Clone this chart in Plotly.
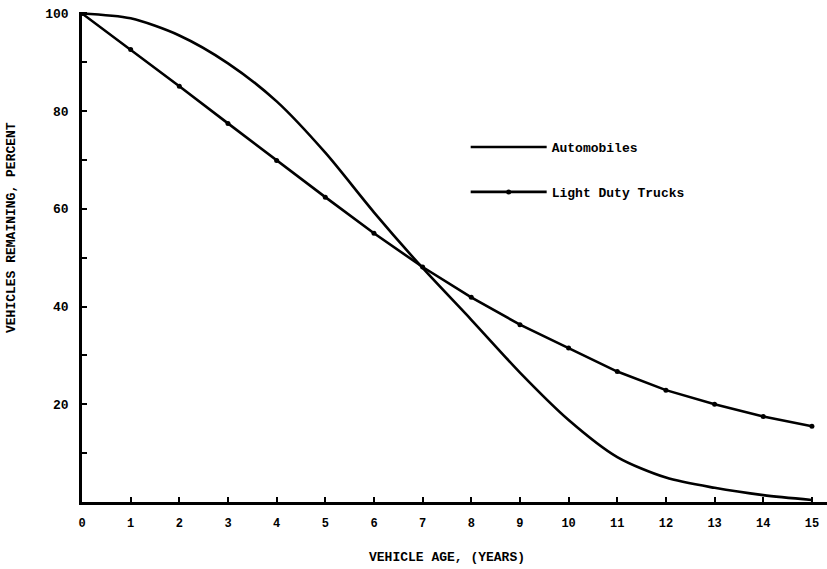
import plotly.graph_objects as go

years = list(range(16))
automobiles = [100, 99.0, 95.5, 89.8, 82.0, 71.5, 59.3, 47.9, 37.3, 26.5, 16.8, 9.2, 5.0, 2.9, 1.4, 0.4]
light_duty_trucks = [100, 92.6, 85.1, 77.5, 69.9, 62.4, 55.0, 48.1, 41.9, 36.3, 31.5, 26.7, 22.9, 20.0, 17.5, 15.5]

x_ticks = list(range(16))
y_tick_vals = list(range(0, 101, 10))
y_tick_text = ["" if (v % 20 or v == 0) else str(v) for v in y_tick_vals]

FONT = "Liberation Mono, DejaVu Sans Mono, monospace"

fig = go.Figure()
fig.add_trace(go.Scatter(
    x=years, y=automobiles, mode="lines", name="Automobiles",
    line=dict(color="black", width=2.6, shape="spline", smoothing=0.8),
    legendgroup="a",
))
fig.add_trace(go.Scatter(
    x=years, y=light_duty_trucks, mode="lines+markers", name="Light Duty Trucks",
    line=dict(color="black", width=2.6),
    marker=dict(color="black", size=5),
    legendgroup="b",
))

fig.update_layout(
    width=827, height=569,
    margin=dict(l=82, r=0, t=12, b=67),
    paper_bgcolor="white", plot_bgcolor="white",
    font=dict(family=FONT, color="black", size=13),
    showlegend=True,
    legend=dict(
        x=0.515, y=0.755, xanchor="left", yanchor="top",
        bgcolor="rgba(0,0,0,0)", tracegroupgap=25,
        traceorder="grouped", itemwidth=76,
        font=dict(family=FONT, size=13, color="black", weight="bold"),
    ),
    xaxis=dict(
        range=[0, 15.31], tickvals=x_ticks, ticktext=[str(v) for v in x_ticks],
        showgrid=False, zeroline=False, showline=True, linecolor="black", linewidth=2.5,
        ticks="inside", ticklen=5, tickwidth=2, tickcolor="black",
        tickfont=dict(family=FONT, size=12, color="black", weight="bold"),
        ticklabelstandoff=8,
    ),
    yaxis=dict(
        range=[0, 100.3], tickvals=y_tick_vals, ticktext=y_tick_text,
        showgrid=False, zeroline=False, showline=True, linecolor="black", linewidth=2.5,
        ticks="inside", ticklen=5, tickwidth=2, tickcolor="black",
        tickfont=dict(family=FONT, size=13, color="black", weight="bold"),
        ticklabelstandoff=8,
    ),
    annotations=[
        dict(text="VEHICLE AGE, (YEARS)", xref="paper", yref="paper",
             x=(447 - 82) / 745, y=-55 / 490, xanchor="center", yanchor="middle",
             showarrow=False, font=dict(family=FONT, size=13, color="black", weight="bold")),
        dict(text="VEHICLES REMAINING, PERCENT", xref="paper", yref="paper",
             x=-70 / 745, y=(502 - 228) / 490, xanchor="center", yanchor="middle",
             textangle=-90, showarrow=False,
             font=dict(family=FONT, size=13, color="black", weight="bold")),
    ],
)

fig.write_html("out.html")
